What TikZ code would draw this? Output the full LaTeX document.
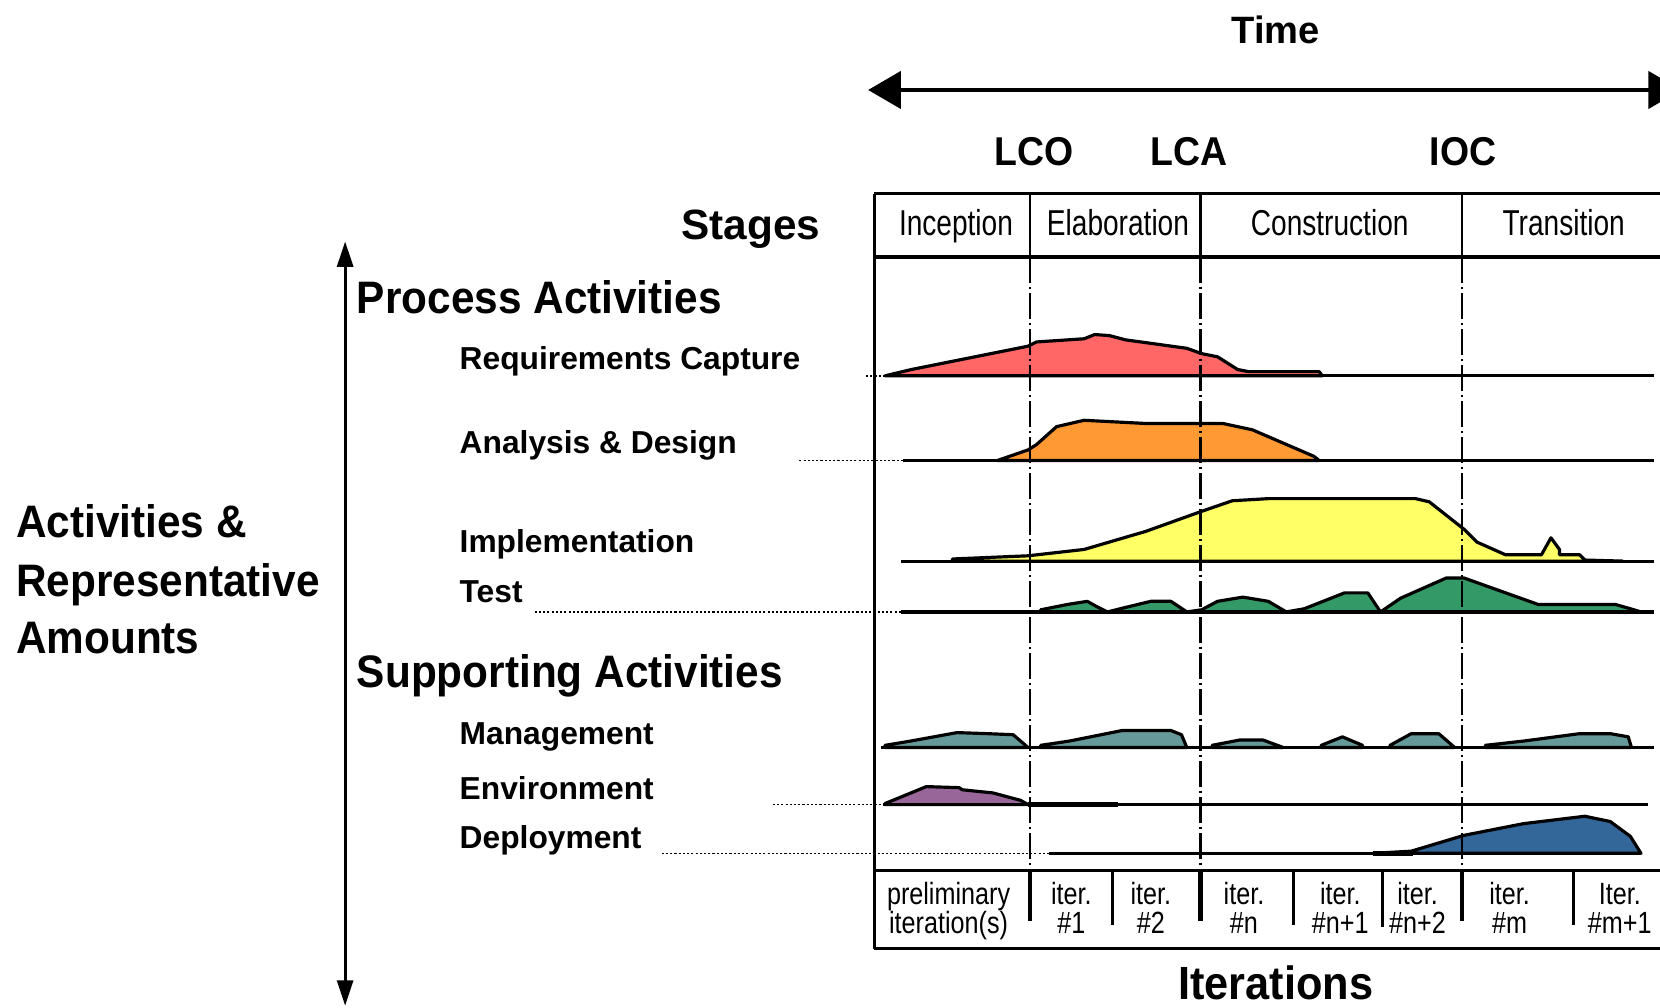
\documentclass[tikz,border=0pt]{standalone}
\usepackage{fontspec}
\setmainfont{Liberation Sans}
\newfontfamily\stagefont[FakeStretch=0.78]{Liberation Sans}
\newfontfamily\iterfont[FakeStretch=0.82]{Liberation Sans}
\newfontfamily\headfont[FakeStretch=0.93]{Liberation Sans}
\usetikzlibrary{arrows.meta}
\definecolor{reqcol}{HTML}{FF6666}
\definecolor{anacol}{HTML}{FF9933}
\definecolor{impcol}{HTML}{FFFF66}
\definecolor{tstcol}{HTML}{339966}
\definecolor{mgtcol}{HTML}{669999}
\definecolor{envcol}{HTML}{996699}
\definecolor{depcol}{HTML}{336699}
\tikzset{
  big/.style={font=\fontsize{36}{40}\selectfont\bfseries, inner sep=0pt, anchor=base},
  mile/.style={font=\headfont\fontsize{38}{40}\selectfont\bfseries, inner sep=0pt, anchor=base},
  head/.style={font=\headfont\fontsize{43}{46}\selectfont\bfseries, inner sep=0pt, anchor=base west},
  act/.style={font=\fontsize{30}{32}\selectfont\bfseries, inner sep=0pt, anchor=base west},
  stagetxt/.style={font=\stagefont\fontsize{34}{36}\selectfont, inner sep=0pt, anchor=base},
  itertxt/.style={font=\iterfont\fontsize{29}{30}\selectfont, inner sep=0pt, anchor=base},
  baseline/.style={line width=3pt},
  leader/.style={line width=1.5pt, dash pattern=on 2pt off 2pt},
  curve/.style={draw, line width=3pt},
  milestone/.style={dash pattern=on 24pt off 4pt on 2pt off 4pt},
  bigtip/.style={{Triangle[length=31pt,width=35pt]}-{Triangle[length=31pt,width=35pt]}},
  smalltip/.style={{Triangle[length=24pt,width=15pt]}-{Triangle[length=24pt,width=15pt]}}
}
\begin{document}
\begin{tikzpicture}[x=1pt, y=-1pt, line join=round]
    \useasboundingbox (0,0) rectangle (1568,952);
	% texts
	\node [big] (100) at (1205, 41) {Time};
	\node [mile] (101) at (977, 156) {LCO};
	\node [mile] (102) at (1123, 156) {LCA};
	\node [mile] (103) at (1382, 156) {IOC};
	\node [big, anchor=base east, font=\fontsize{40}{44}\selectfont\bfseries] (104) at (775, 226) {Stages};
	\node [head] (105) at (337, 296) {Process Activities};
	\node [head] (106) at (337, 649) {Supporting Activities};
	\node [head] (107) at (15, 508) {Activities \&};
	\node [head] (108) at (15, 563) {Representative};
	\node [head] (109) at (15, 617) {Amounts};
	\node [act] (110) at (434, 349) {Requirements Capture};
	\node [act] (111) at (434, 428) {Analysis \& Design};
	\node [act] (112) at (434, 522) {Implementation};
	\node [act] (113) at (434, 569) {Test};
	\node [act] (114) at (434, 703) {Management};
	\node [act] (115) at (434, 755) {Environment};
	\node [act] (116) at (434, 801) {Deployment};
	\node [stagetxt] (117) at (903, 222) {Inception};
	\node [stagetxt] (118) at (1056, 222) {Elaboration};
	\node [stagetxt] (119) at (1256, 222) {Construction};
	\node [stagetxt] (120) at (1477, 222) {Transition};
	\node [head, anchor=base, font=\headfont\fontsize{44}{46}\selectfont\bfseries] (121) at (1205, 944) {Iterations};
	\node [itertxt] (122) at (896, 854) {preliminary};
	\node [itertxt] (123) at (896, 882) {iteration(s)};
	\node [itertxt] (124) at (1012, 854) {iter.};
	\node [itertxt] (125) at (1012, 882) {\#1};
	\node [itertxt] (126) at (1087, 854) {iter.};
	\node [itertxt] (127) at (1087, 882) {\#2};
	\node [itertxt] (128) at (1175, 854) {iter.};
	\node [itertxt] (129) at (1175, 882) {\#n};
	\node [itertxt] (130) at (1266, 854) {iter.};
	\node [itertxt] (131) at (1266, 882) {\#n+1};
	\node [itertxt] (132) at (1339, 854) {iter.};
	\node [itertxt] (133) at (1339, 882) {\#n+2};
	\node [itertxt] (134) at (1426, 854) {iter.};
	\node [itertxt] (135) at (1426, 882) {\#m};
	\node [itertxt] (136) at (1530, 854) {Iter.};
	\node [itertxt] (137) at (1530, 882) {\#m+1};
	% points
	\node (0) at (820, 85) {};
	\node (1) at (1588, 85) {};
	\node (2) at (326, 228) {};
	\node (3) at (326, 950) {};
	\node (4) at (826, 183) {};
	\node (5) at (1580, 183) {};
	\node (6) at (826, 243) {};
	\node (7) at (1580, 243) {};
	\node (8) at (826, 822) {};
	\node (9) at (1580, 822) {};
	\node (10) at (826, 896) {};
	\node (11) at (1580, 896) {};
	\node (12) at (973, 183) {};
	\node (13) at (973, 243) {};
	\node (14) at (1134, 183) {};
	\node (15) at (1134, 243) {};
	\node (16) at (1381, 183) {};
	\node (17) at (1381, 243) {};
	\node (18) at (973, 822) {};
	\node (19) at (973, 870) {};
	\node (20) at (1134, 822) {};
	\node (21) at (1134, 870) {};
	\node (22) at (1381, 822) {};
	\node (23) at (1381, 870) {};
	\node (24) at (1051, 822) {};
	\node (25) at (1051, 874) {};
	\node (26) at (1222, 822) {};
	\node (27) at (1222, 874) {};
	\node (28) at (1306, 822) {};
	\node (29) at (1306, 876) {};
	\node (30) at (1486, 822) {};
	\node (31) at (1486, 874) {};
	% baselines
	\node (40) at (836, 355) {};
	\node (41) at (1562, 355) {};
	\node (42) at (853, 435) {};
	\node (43) at (1562, 435) {};
	\node (44) at (851, 530) {};
	\node (45) at (1562, 530) {};
	\node (46) at (851, 578) {};
	\node (47) at (1562, 578) {};
	\node (48) at (832, 706) {};
	\node (49) at (1562, 706) {};
	\node (50) at (834, 760) {};
	\node (51) at (1557, 760) {};
	\node (52) at (991, 806) {};
	\node (53) at (1550, 806) {};
	\node (54) at (971, 760) {};
	\node (55) at (1056, 760) {};
	\node (56) at (1297, 806) {};
	\node (57) at (1335, 806) {};
	% leaders
	\node (60) at (818, 355) {};
	\node (61) at (755, 435) {};
	\node (62) at (505, 578) {};
	\node (63) at (730, 760) {};
	\node (64) at (625, 806) {};
	% curves
	\filldraw [curve, fill=reqcol] (836,355) -- (861,349) -- (971,327) -- (979,323) -- (1024,320) -- (1034,316) -- (1048,317) -- (1063,321) -- (1121,329) -- (1135,334) -- (1150,337) -- (1169,349) -- (1179,351) -- (1246,351) -- (1249,355) -- cycle;
	\filldraw [curve, fill=anacol] (942,435) -- (971,425) -- (979,420) -- (998,403) -- (1024,397) -- (1082,400) -- (1155,400) -- (1183,406) -- (1241,431) -- (1246,435) -- cycle;
	\filldraw [curve, fill=impcol] (899,530) -- (900,528) -- (947,526) -- (971,525) -- (1024,519) -- (1082,502) -- (1135,483) -- (1164,473) -- (1198,471) -- (1337,471) -- (1350,474) -- (1383,500) -- (1395,512) -- (1422,524) -- (1456,524) -- (1465,508) -- (1473,519) -- (1473,524) -- (1492,524) -- (1497,529) -- (1533,530) -- cycle;
	\filldraw [curve, fill=tstcol] (983,578) -- (983,576) -- (1008,571) -- (1027,568) -- (1036,573) -- (1046,578) -- (1058,575) -- (1087,568) -- (1106,568) -- (1121,578) -- (1135,576) -- (1150,568) -- (1174,564) -- (1198,568) -- (1215,578) -- (1232,575) -- (1270,560) -- (1292,560) -- (1304,578) -- (1323,565) -- (1366,546) -- (1383,546) -- (1453,571) -- (1526,571) -- (1540,575) -- (1550,578) -- cycle;
	\filldraw [curve, fill=mgtcol] (836,706) -- (836,704) -- (860,700) -- (904,692) -- (933,693) -- (957,694) -- (971,706) -- cycle;
	\filldraw [curve, fill=mgtcol] (983,706) -- (983,704) -- (1010,700) -- (1060,690) -- (1106,690) -- (1116,694) -- (1121,706) -- cycle;
	\filldraw [curve, fill=mgtcol] (1145,706) -- (1145,704) -- (1171,699) -- (1193,699) -- (1212,706) -- cycle;
	\filldraw [curve, fill=mgtcol] (1248,706) -- (1248,704) -- (1268,696) -- (1287,704) -- (1287,706) -- cycle;
	\filldraw [curve, fill=mgtcol] (1313,706) -- (1313,704) -- (1333,693) -- (1359,693) -- (1374,706) -- cycle;
	\filldraw [curve, fill=mgtcol] (1403,706) -- (1403,704) -- (1439,700) -- (1492,693) -- (1521,693) -- (1538,696) -- (1541,706) -- cycle;
	\filldraw [curve, fill=envcol] (836,760) -- (836,759) -- (875,743) -- (906,744) -- (909,746) -- (938,749) -- (964,756) -- (971,760) -- cycle;
	\filldraw [curve, fill=depcol] (1297,806) -- (1333,804) -- (1383,789) -- (1439,778) -- (1497,771) -- (1521,776) -- (1540,790) -- (1550,806) -- cycle;
	% edges
	\draw [bigtip, line width=4pt] (0.center) to (1.center);
	\draw [smalltip, line width=3pt] (2.center) to (3.center);
	\draw [line width=3pt] (4.center) to (5.center);
	\draw [line width=4pt] (6.center) to (7.center);
	\draw [line width=3pt] (8.center) to (9.center);
	\draw [line width=3pt] (10.center) to (11.center);
	\draw [line width=3pt] (4.center) to (10.center);
	\draw [line width=2pt] (12.center) to (13.center);
	\draw [line width=2pt] (14.center) to (15.center);
	\draw [line width=2pt] (16.center) to (17.center);
	\draw [baseline] (40.center) to (41.center);
	\draw [baseline] (42.center) to (43.center);
	\draw [baseline] (44.center) to (45.center);
	\draw [baseline] (46.center) to (47.center);
	\draw [baseline] (48.center) to (49.center);
	\draw [baseline] (50.center) to (51.center);
	\draw [baseline] (52.center) to (53.center);
	\draw [line width=5pt] (54.center) to (55.center);
	\draw [line width=5pt] (56.center) to (57.center);
	\draw [leader] (60.center) to (40.center);
	\draw [leader] (61.center) to (42.center);
	\draw [leader] (62.center) to (46.center);
	\draw [leader] (63.center) to (50.center);
	\draw [leader] (64.center) to (52.center);
	% milestones
	\draw [milestone, line width=1.5pt] (13.center) to (18.center);
	\draw [milestone, line width=2.5pt] (15.center) to (20.center);
	\draw [milestone, line width=2pt] (17.center) to (22.center);
	\draw [line width=4.5pt] (18.center) to (19.center);
	\draw [line width=4.5pt] (20.center) to (21.center);
	\draw [line width=4.5pt] (22.center) to (23.center);
	\draw [line width=2.5pt] (24.center) to (25.center);
	\draw [line width=2.5pt] (26.center) to (27.center);
	\draw [line width=2.5pt] (28.center) to (29.center);
	\draw [line width=2.5pt] (30.center) to (31.center);
\end{tikzpicture}
\end{document}
